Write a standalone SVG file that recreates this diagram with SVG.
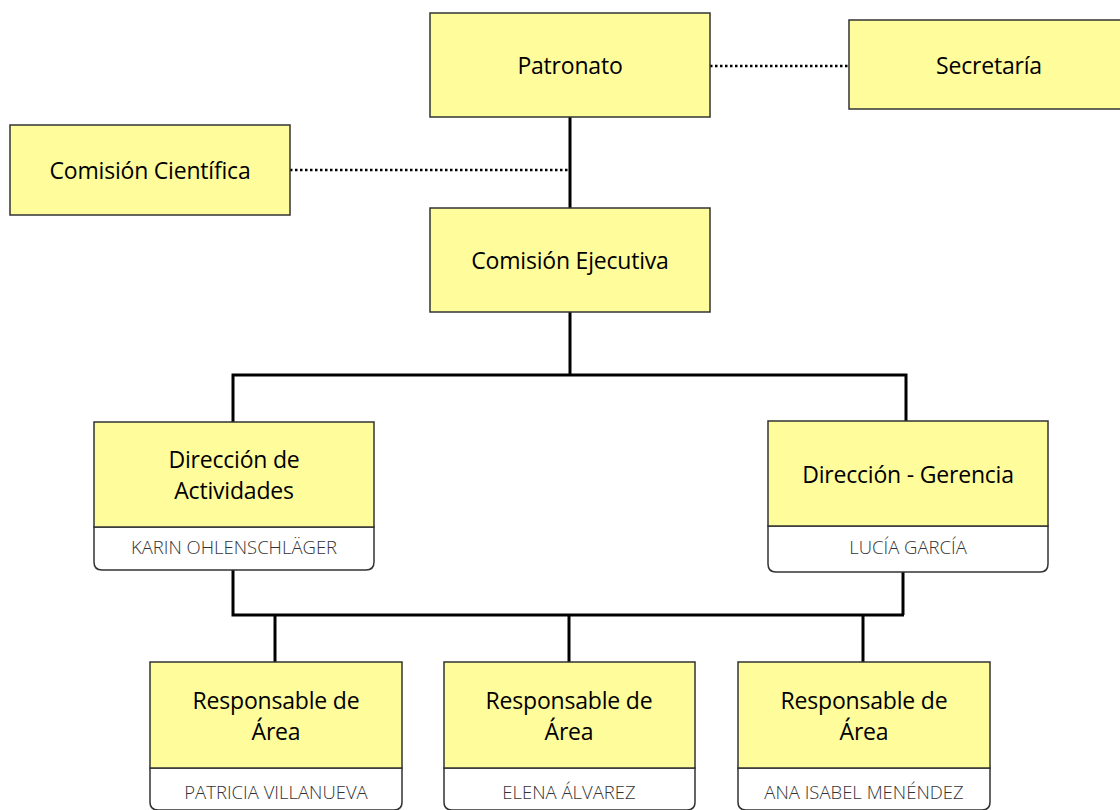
<svg xmlns="http://www.w3.org/2000/svg" width="1120" height="810" viewBox="0 0 1120 810">
<style>
.box{fill:#FFFC9C;stroke:#333;stroke-width:1.5}
.sub{fill:#fff;stroke:#333;stroke-width:1.5}
.t{font-family:"Open Sans","Liberation Sans",sans-serif;font-size:23px;fill:#000;text-anchor:middle;letter-spacing:-0.2px}
.s{font-family:"Open Sans","Liberation Sans",sans-serif;font-size:18.5px;fill:#333;text-anchor:middle;font-weight:300}
.ln{stroke:#000;stroke-width:3;fill:none}
.dot{stroke:#000;stroke-width:2.5;stroke-dasharray:2.5 2.5;fill:none}
</style>
<rect width="1120" height="810" fill="#fff"/>
<g id="connectors">
<line class="dot" x1="710" y1="66" x2="849" y2="66"/>
<line class="dot" x1="290" y1="170" x2="570" y2="170"/>
<line class="ln" x1="570" y1="117" x2="570" y2="208"/>
<polyline class="ln" points="570,312 570,375"/>
<polyline class="ln" points="233,422 233,375 906,375 906,422"/>
<polyline class="ln" points="233,570 233,615 904,615"/>
<line class="ln" x1="903" y1="572" x2="903" y2="615"/>
<line class="ln" x1="275" y1="615" x2="275" y2="662"/>
<line class="ln" x1="569" y1="615" x2="569" y2="662"/>
<line class="ln" x1="863" y1="615" x2="863" y2="662"/>
</g>
<g id="patronato">
<rect class="box" x="430" y="13" width="280" height="104"/>
<text class="t" x="570" y="74">Patronato</text>
</g>
<g id="secretaria">
<rect class="box" x="849" y="20" width="280" height="89"/>
<text class="t" x="989" y="74">Secretaría</text>
</g>
<g id="comision-cientifica">
<rect class="box" x="10" y="125" width="280" height="90"/>
<text class="t" x="150" y="179">Comisión Científica</text>
</g>
<g id="comision-ejecutiva">
<rect class="box" x="430" y="208" width="280" height="104"/>
<text class="t" x="570" y="269">Comisión Ejecutiva</text>
</g>
<g id="direccion-actividades">
<path class="sub" d="M94,527 H374 V562 Q374,570 366,570 H102 Q94,570 94,562 Z"/>
<rect class="box" x="94" y="422" width="280" height="105"/>
<text class="t" x="234" y="468">Dirección de</text>
<text class="t" x="234" y="499">Actividades</text>
<text class="s" x="234" y="554">KARIN OHLENSCHLÄGER</text>
</g>
<g id="direccion-gerencia">
<path class="sub" d="M768,526 H1048 V564 Q1048,572 1040,572 H776 Q768,572 768,564 Z"/>
<rect class="box" x="768" y="421" width="280" height="105"/>
<text class="t" x="908" y="483">Dirección - Gerencia</text>
<text class="s" x="908" y="554">LUCÍA GARCÍA</text>
</g>
<g id="responsable-1">
<path class="sub" d="M150,768 H402 V802 Q402,810 394,810 H158 Q150,810 150,802 Z"/>
<rect class="box" x="150" y="662" width="252" height="106"/>
<text class="t" x="276" y="709">Responsable de</text>
<text class="t" x="276" y="740">Área</text>
<text class="s" x="276" y="799">PATRICIA VILLANUEVA</text>
</g>
<g id="responsable-2">
<path class="sub" d="M444,768 H695 V802 Q695,810 687,810 H452 Q444,810 444,802 Z"/>
<rect class="box" x="444" y="662" width="251" height="106"/>
<text class="t" x="569" y="709">Responsable de</text>
<text class="t" x="569" y="740">Área</text>
<text class="s" x="569" y="799">ELENA ÁLVAREZ</text>
</g>
<g id="responsable-3">
<path class="sub" d="M738,768 H990 V802 Q990,810 982,810 H746 Q738,810 738,802 Z"/>
<rect class="box" x="738" y="662" width="252" height="106"/>
<text class="t" x="864" y="709">Responsable de</text>
<text class="t" x="864" y="740">Área</text>
<text class="s" x="864" y="799">ANA ISABEL MENÉNDEZ</text>
</g>
</svg>
